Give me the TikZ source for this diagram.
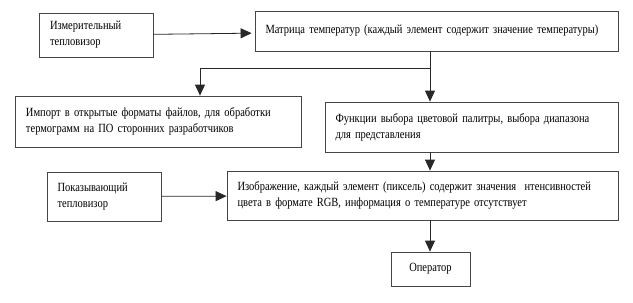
\documentclass[tikz,border=0pt]{standalone}
\usepackage{fontspec}
\setmainfont{Liberation Serif}[FakeStretch=0.84]
\usepackage{xcolor}
\usetikzlibrary{arrows.meta}
\definecolor{BoxLine}{RGB}{70,70,70}
\definecolor{FlowLine}{RGB}{40,40,40}

\begin{document}
\begin{tikzpicture}[x=1pt, y=-1pt,
    block/.style={draw=BoxLine, line width=0.8pt, inner sep=0pt, align=left,
      font=\fontsize{12.5}{16}\selectfont},
    flow/.style={FlowLine, line width=0.8pt, -{Triangle[length=11pt, width=10pt]}}]

  % --- Frame ---
  \useasboundingbox (0,0) rectangle (633,303);

  % --- Boxes (centre, width, height in px) ---
  \node[block, minimum width=114, minimum height=44, text width=92]
    (meas) at (96,35) {Измерительный\\тепловизор};
  \node[block, minimum width=363, minimum height=40, text width=342]
    (matrix) at (436.5,31) {Матрица температур (каждый элемент содержит значение температуры)};
  \node[block, minimum width=286, minimum height=51, text width=264]
    (export) at (158,121.5) {Импорт в открытые форматы файлов, для обработки\\термограмм на ПО сторонних разработчиков};
  \node[block, minimum width=293, minimum height=50, text width=272]
    (palette) at (471.5,127) {Функции выбора цветовой палитры, выбора диапазона\\для представления};
  \node[block, minimum width=391, minimum height=49, text width=370]
    (image) at (422.5,195.5) {Изображение, каждый элемент (пиксель) содержит значения~ нтенсивностей\\цвета в формате RGB, информация о температуре отсутствует};
  \node[block, minimum width=114, minimum height=49, text width=93]
    (show) at (104,196.5) {Показывающий\\тепловизор};
  \node[block, minimum width=79, minimum height=34, align=center]
    (oper) at (430.5,269) {Оператор};

  % --- Branch points ---
  \coordinate (trunk) at (430,68);
  \coordinate (twig) at (200,68);

  % --- Connectors ---
  \draw[flow, shorten >=3pt] (meas) -- (matrix);
  \draw[FlowLine, line width=0.8pt] (matrix.south -| trunk) -- (trunk) -- (twig);
  \draw[flow] (twig) -- (twig |- export.north);
  \draw[flow] (trunk) -- (trunk |- palette.north);
  \draw[flow] (palette.south -| trunk) -- (trunk |- image.north);
  \draw[flow] (show) -- (image);
  \draw[flow] (image.south -| trunk) -- (trunk |- oper.north);

\end{tikzpicture}
\end{document}
